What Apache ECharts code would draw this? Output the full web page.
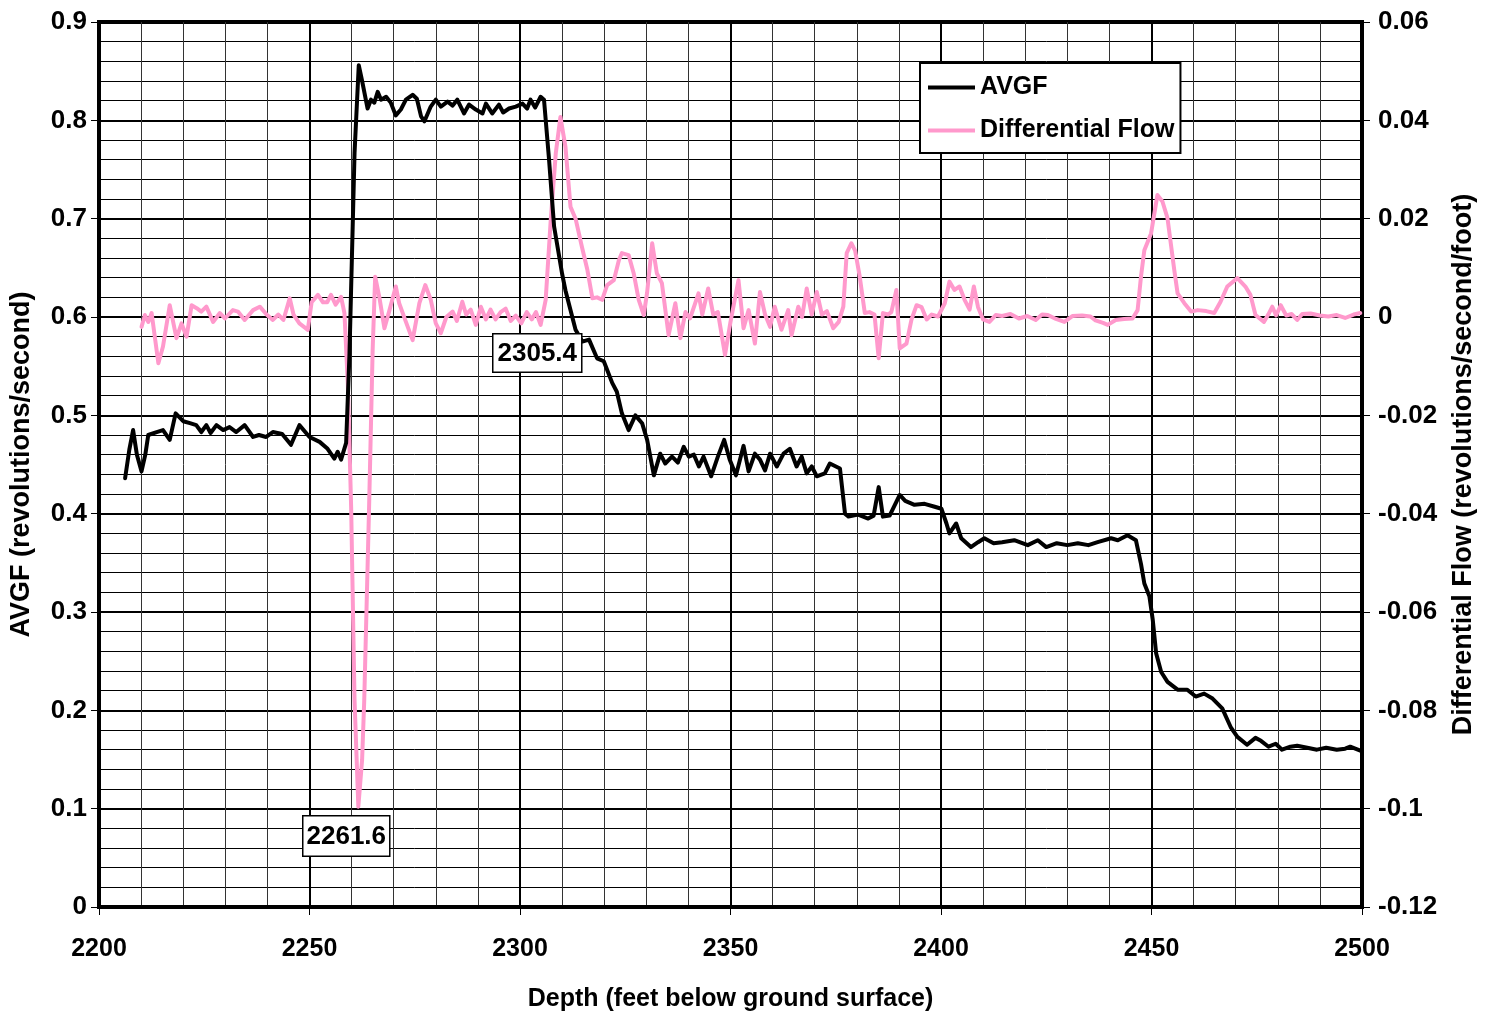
<!DOCTYPE html>
<html>
<head>
<meta charset="utf-8">
<script src="https://cdn.jsdelivr.net/npm/echarts@6/dist/echarts.min.js"></script>
<style>html,body{margin:0;padding:0;background:#fff}#c{width:1485px;height:1019px}</style>
</head>
<body>
<div id="c"></div>
<script>
const xTickLabels = [2200, 2250, 2300, 2350, 2400, 2450, 2500];
const avgfDepth = [2206.2,2207.2,2208.1,2209.0,2210.1,2211.0,2211.7,2213.7,2215.2,2216.8,2218.2,2220.0,2221.6,2223.1,2224.3,2225.5,2226.5,2227.9,2229.5,2231.0,2232.6,2234.6,2236.6,2238.0,2239.7,2241.3,2243.5,2245.6,2247.6,2250.0,2252.4,2254.3,2255.9,2256.7,2257.5,2258.7,2259.5,2260.7,2261.7,2262.5,2263.8,2264.6,2265.4,2266.2,2267.0,2268.2,2269.3,2270.5,2271.7,2272.9,2274.5,2275.5,2276.5,2277.3,2278.8,2280.0,2281.2,2282.8,2284.0,2285.1,2286.7,2287.9,2289.5,2291.1,2291.9,2293.4,2295.0,2296.0,2297.4,2299.0,2300.6,2301.7,2302.5,2303.6,2304.9,2305.7,2306.9,2308.1,2310.0,2310.8,2313.2,2314.8,2316.4,2318.3,2319.9,2321.9,2323.0,2324.2,2325.8,2327.4,2329.0,2330.2,2331.8,2333.3,2334.5,2336.1,2337.5,2338.9,2340.1,2341.3,2342.5,2343.6,2345.4,2347.0,2348.5,2349.8,2351.3,2353.1,2354.3,2355.8,2357.0,2358.2,2359.4,2361.0,2362.6,2364.1,2365.7,2366.9,2368.1,2369.3,2370.5,2372.4,2373.6,2376.0,2377.2,2378.0,2380.3,2382.7,2384.0,2385.2,2386.2,2387.8,2390.2,2391.5,2393.7,2396.1,2398.5,2400.1,2401.3,2402.0,2403.6,2404.8,2407.1,2408.8,2410.3,2412.5,2414.5,2417.4,2420.6,2423.0,2425.0,2427.5,2430.0,2432.5,2435.0,2437.2,2440.4,2442.0,2444.3,2446.3,2447.5,2448.3,2449.5,2450.3,2451.1,2452.3,2453.8,2456.2,2458.5,2460.5,2462.5,2464.5,2466.8,2468.8,2470.4,2472.7,2474.7,2476.0,2477.8,2479.5,2481.0,2483.0,2484.6,2487.0,2489.3,2491.5,2494.0,2496.0,2497.2,2499.6];
const avgfValue = [0.436,0.465,0.485,0.46,0.443,0.46,0.48,0.483,0.485,0.475,0.502,0.494,0.492,0.49,0.483,0.49,0.482,0.49,0.485,0.488,0.483,0.49,0.478,0.48,0.478,0.483,0.481,0.47,0.49,0.478,0.473,0.466,0.456,0.463,0.455,0.472,0.563,0.767,0.856,0.84,0.812,0.821,0.818,0.829,0.821,0.824,0.818,0.805,0.811,0.821,0.826,0.822,0.804,0.799,0.814,0.821,0.814,0.819,0.815,0.821,0.807,0.816,0.811,0.807,0.817,0.807,0.816,0.808,0.812,0.814,0.817,0.812,0.821,0.813,0.824,0.821,0.76,0.692,0.644,0.627,0.587,0.575,0.577,0.558,0.555,0.533,0.524,0.502,0.485,0.5,0.492,0.475,0.439,0.461,0.451,0.458,0.452,0.468,0.458,0.46,0.448,0.458,0.438,0.458,0.475,0.455,0.439,0.469,0.443,0.461,0.455,0.444,0.461,0.448,0.461,0.466,0.448,0.458,0.441,0.448,0.438,0.441,0.451,0.446,0.4,0.397,0.399,0.395,0.398,0.427,0.397,0.398,0.419,0.413,0.409,0.41,0.407,0.405,0.39,0.38,0.39,0.375,0.366,0.371,0.375,0.37,0.371,0.373,0.368,0.373,0.366,0.37,0.368,0.37,0.368,0.371,0.375,0.373,0.378,0.373,0.349,0.329,0.316,0.292,0.258,0.239,0.229,0.221,0.221,0.214,0.217,0.212,0.202,0.183,0.173,0.165,0.172,0.169,0.163,0.166,0.16,0.163,0.164,0.162,0.16,0.162,0.16,0.161,0.163,0.159];
const diffDepth = [2210.1,2210.9,2211.7,2212.5,2214.1,2215.2,2216.8,2218.4,2219.6,2220.8,2222.0,2223.2,2224.3,2225.5,2227.1,2228.7,2229.9,2231.8,2233.0,2234.6,2236.6,2238.2,2239.8,2241.3,2242.6,2243.8,2245.3,2246.2,2247.6,2249.6,2250.5,2252.0,2253.2,2254.2,2255.1,2256.2,2257.5,2258.3,2259.1,2259.9,2260.7,2261.6,2262.5,2263.0,2264.2,2265.0,2265.6,2266.6,2267.8,2269.0,2270.5,2271.3,2272.9,2274.5,2276.1,2277.5,2278.8,2280.0,2281.2,2282.5,2284.0,2285.0,2286.3,2287.2,2288.3,2289.5,2290.7,2291.9,2293.0,2294.2,2295.4,2296.6,2297.8,2299.0,2300.3,2301.6,2302.8,2303.8,2304.9,2306.1,2307.3,2308.5,2309.6,2310.8,2312.0,2313.2,2314.7,2316.0,2317.2,2318.3,2319.5,2320.7,2322.3,2323.5,2324.2,2325.8,2327.0,2328.2,2329.4,2330.2,2331.4,2332.5,2333.7,2335.3,2336.9,2338.1,2339.3,2340.4,2342.4,2343.3,2344.7,2345.9,2347.0,2348.7,2350.0,2351.9,2353.1,2354.3,2355.8,2357.0,2358.2,2359.4,2360.5,2362.1,2363.7,2364.5,2366.1,2367.0,2368.1,2369.3,2370.5,2371.7,2372.9,2374.4,2375.7,2376.8,2377.6,2378.7,2379.6,2380.7,2381.9,2383.0,2384.2,2385.2,2386.2,2387.4,2388.2,2389.4,2390.2,2391.8,2393.0,2394.2,2395.4,2396.6,2397.8,2399.3,2400.9,2402.0,2403.2,2404.4,2405.6,2406.8,2407.8,2408.8,2410.0,2411.5,2413.0,2414.5,2416.5,2418.5,2420.5,2422.5,2424.0,2425.4,2427.3,2429.3,2431.2,2433.5,2435.5,2436.7,2438.5,2439.6,2441.5,2443.5,2445.5,2446.7,2447.5,2448.3,2449.9,2451.4,2452.6,2453.8,2455.4,2456.2,2457.8,2459.4,2461.0,2463.0,2464.9,2466.4,2468.0,2470.4,2472.3,2473.5,2474.7,2476.7,2477.8,2478.7,2479.6,2480.7,2482.0,2483.3,2484.6,2485.8,2487.8,2490.0,2492.0,2494.0,2496.0,2498.0,2499.6];
const diffValue = [-0.002,0.0004,-0.001,0.0008,-0.0094,-0.006,0.0024,-0.0043,-0.0013,-0.004,0.0024,0.0018,0.0011,0.0021,-0.001,0.0008,-0.0003,0.0014,0.0011,-0.0006,0.0014,0.0021,0.0005,-0.0006,0.0005,-0.0006,0.0038,0.0005,-0.0013,-0.0026,0.003,0.0045,0.003,0.003,0.0045,0.0025,0.0041,0.0008,-0.0135,-0.039,-0.078,-0.0996,-0.09,-0.078,-0.037,-0.0067,0.0082,0.004,-0.0023,0.0014,0.0062,0.0028,-0.001,-0.0047,0.0028,0.0065,0.0035,-0.0013,-0.0033,0.0,0.0011,-0.0008,0.0031,0.0005,0.0015,-0.0016,0.0021,-0.0005,0.0015,-0.0005,0.001,0.0017,-0.0008,0.0003,-0.0013,0.001,-0.0005,0.001,-0.0016,0.0035,0.0197,0.0333,0.0407,0.0346,0.0224,0.02,0.0143,0.0096,0.0038,0.004,0.0035,0.0065,0.0075,0.0116,0.013,0.0126,0.0089,0.0035,0.0004,0.005,0.015,0.0089,0.0069,-0.0037,0.0028,-0.0043,0.001,-0.0003,0.0048,0.0005,0.0058,0.0005,0.001,-0.0077,-0.001,0.0075,-0.0023,0.0014,-0.0054,0.0051,0.0005,-0.002,0.0021,-0.0026,0.0014,-0.0037,0.0021,0.0,0.0058,0.0005,0.0051,0.0005,0.0012,-0.0023,-0.001,0.0021,0.013,0.015,0.0135,0.0082,0.0008,0.001,0.0005,-0.0084,0.0008,0.0005,0.001,0.0055,-0.0064,-0.0054,-0.0005,0.0024,0.002,-0.0005,0.0005,0.0001,0.0028,0.0072,0.0055,0.0062,0.0035,0.0015,0.0062,0.002,-0.0005,-0.001,0.0004,0.0002,0.0006,-0.0003,0.0002,-0.0006,0.0005,0.0004,-0.0004,-0.001,0.0002,0.0003,0.0001,-0.0007,-0.0012,-0.0016,-0.0006,-0.0004,-0.0003,0.0014,0.0082,0.0136,0.017,0.0248,0.0235,0.0201,0.0096,0.0048,0.0028,0.0011,0.0014,0.0012,0.0008,0.0031,0.0062,0.0079,0.0062,0.0045,0.0004,-0.001,0.0006,0.0021,0.0003,0.0024,0.0003,0.0006,-0.0006,0.0006,0.0007,0.0003,0.0001,0.0004,-0.0002,0.0005,0.0008];
const annotations = ['2305.4', '2261.6'];

const FONT = 'Liberation Sans';
const chart = echarts.init(document.getElementById('c'), null, {renderer: 'canvas'});
const avgfData = avgfDepth.map((d, i) => [d, avgfValue[i]]);
const diffData = diffDepth.map((d, i) => [d, diffValue[i]]);
const ylbl = {fontFamily: FONT, fontWeight: 'bold', fontSize: 26, color: '#000'};
const xlbl = {fontFamily: FONT, fontWeight: 'bold', fontSize: 25, color: '#000'};
chart.setOption({
  animation: false,
  backgroundColor: '#fff',
  grid: {left: 99, right: 120, top: 22, bottom: 112, show: true, borderColor: '#000', borderWidth: 4, backgroundColor: 'transparent'},
  legend: {
    left: 920, top: 63, orient: 'vertical', itemGap: 18,
    padding: [12, 6, 10, 8],
    borderColor: '#000', borderWidth: 2, backgroundColor: '#fff',
    itemWidth: 47, itemHeight: 4, icon: 'rect',
    textStyle: {fontFamily: FONT, fontWeight: 'bold', fontSize: 25, color: '#000', padding: [0, 0, 0, 0]},
    data: ['AVGF', 'Differential Flow']
  },
  xAxis: {
    type: 'value', min: 2200, max: 2500, interval: 50,
    name: 'Depth (feet below ground surface)', nameLocation: 'middle', nameGap: 80,
    nameTextStyle: {fontFamily: FONT, fontWeight: 'bold', fontSize: 25, color: '#000'},
    axisLine: {show: true, onZero: false, lineStyle: {color: '#000', width: 4}},
    axisTick: {show: true, length: 8, lineStyle: {color: '#000', width: 1}},
    axisLabel: {...xlbl, margin: 30, formatter: v => xTickLabels.includes(v) ? String(v) : ''},
    splitLine: {show: true, lineStyle: {color: '#000', width: 2}},
    minorTick: {show: false, splitNumber: 5},
    minorSplitLine: {show: true, lineStyle: {color: '#333', width: 1}}
  },
  yAxis: [{
    type: 'value', min: 0, max: 0.9, interval: 0.1, position: 'left',
    name: 'AVGF (revolutions/second)', nameLocation: 'middle', nameGap: 64,
    nameTextStyle: {fontFamily: FONT, fontWeight: 'bold', fontSize: 27, color: '#000'},
    axisLine: {show: true, onZero: false, lineStyle: {color: '#000', width: 4}},
    axisTick: {show: true, length: 8, lineStyle: {color: '#000', width: 1}},
    axisLabel: {...ylbl, margin: 12},
    splitLine: {show: true, lineStyle: {color: '#000', width: 2}},
    minorTick: {show: false, splitNumber: 5},
    minorSplitLine: {show: true, lineStyle: {color: '#000', width: 1}}
  }, {
    type: 'value', min: -0.12, max: 0.06, interval: 0.02, position: 'right',
    name: 'Differential Flow (revolutions/second/foot)', nameLocation: 'middle', nameGap: 88, nameRotate: 90,
    nameTextStyle: {fontFamily: FONT, fontWeight: 'bold', fontSize: 27, color: '#000'},
    axisLine: {show: true, onZero: false, lineStyle: {color: '#000', width: 4}},
    axisTick: {show: true, length: 8, lineStyle: {color: '#000', width: 1}},
    axisLabel: {...ylbl, margin: 16, formatter: v => String(Math.round(v * 100) / 100)},
    splitLine: {show: false}
  }],
  series: [{
    name: 'AVGF', type: 'line', yAxisIndex: 0, data: avgfData, showSymbol: false, symbol: 'none',
    lineStyle: {color: '#000', width: 4, join: 'round', cap: 'round'}, itemStyle: {color: '#000'}, z: 4
  }, {
    name: 'Differential Flow', type: 'line', yAxisIndex: 1, data: diffData, showSymbol: false, symbol: 'none',
    lineStyle: {color: '#FF99CC', width: 4, join: 'round', cap: 'round'}, itemStyle: {color: '#FF99CC'}, z: 3
  }],
  graphic: [{
    type: 'text', left: 492, top: 333, z: 100,
    style: {text: annotations[0], fontFamily: FONT, fontWeight: 'bold', fontSize: 26, fill: '#000',
      backgroundColor: '#fff', borderColor: '#000', borderWidth: 1.5, padding: [6, 4, 5, 4]}
  }, {
    type: 'text', left: 302, top: 815, z: 100,
    style: {text: annotations[1], fontFamily: FONT, fontWeight: 'bold', fontSize: 26, fill: '#000',
      backgroundColor: '#fff', borderColor: '#000', borderWidth: 1.5, padding: [7, 3, 6, 3]}
  }]
});
</script>
</body>
</html>
